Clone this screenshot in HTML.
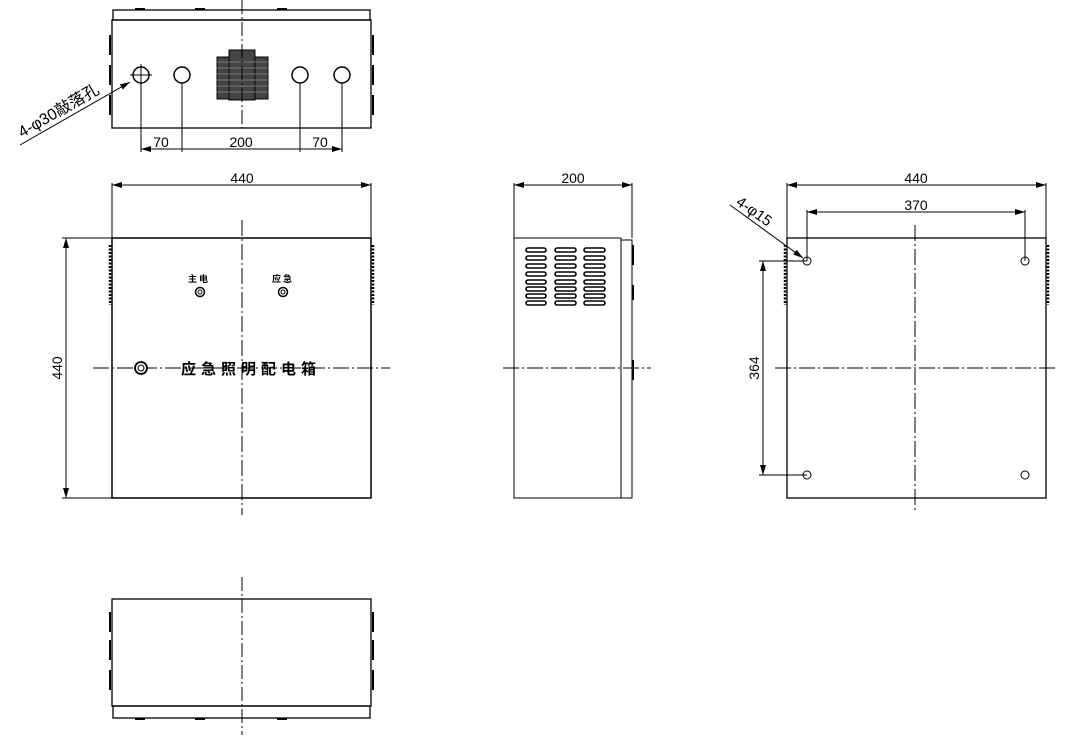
<!DOCTYPE html>
<html><head><meta charset="utf-8"><style>body{margin:0;background:#fff}svg{display:block}text{font-family:"Liberation Sans","Noto Sans CJK SC",sans-serif;fill:#000}</style></head><body>
<svg width="1066" height="740" viewBox="0 0 1066 740" xmlns="http://www.w3.org/2000/svg">
<defs><marker id="a" viewBox="0 0 10 6" refX="10" refY="3" markerWidth="10" markerHeight="6" orient="auto-start-reverse" markerUnits="userSpaceOnUse"><path d="M0,0L10,3L0,6z" fill="#000"/></marker></defs>
<g fill="none" stroke="#000" stroke-width="1">
<rect x="113" y="10" width="257" height="10" stroke-width="1.3"/>
<path d="M135,9h10M195,9h10M277,9h10" stroke-width="2"/>
<rect x="112" y="20" width="259" height="108" stroke-width="1.3"/>
<path d="M110,35v20M110,65v20M110,95v20M373,35v20M373,65v20M373,95v20" stroke-width="2"/>
<circle cx="141" cy="75" r="8" stroke-width="1.5"/><circle cx="182" cy="75" r="8" stroke-width="1.5"/><circle cx="300" cy="75" r="8" stroke-width="1.5"/><circle cx="342" cy="75" r="8" stroke-width="1.5"/>
<path d="M130,75h22M141,64v88M182,83v69M300,83v69M342,83v69"/>
<rect x="217" y="57" width="51" height="42" fill="#444"/>
<rect x="229" y="50" width="26" height="50" fill="#444"/>
<path d="M217,62h51M217,68h51M217,74h51M217,80h51M217,86h51M217,92h51" stroke="#888" stroke-width="0.7"/>
<path d="M242,0V128" stroke-dasharray="14,3,2,3"/>
<path d="M141,149H182M182,149H300M300,149H342" marker-start="url(#a)" marker-end="url(#a)"/>
<path d="M20,145L130,82" marker-end="url(#a)"/>
<path d="M112,183V238M371,183V238M62,238H112M62,498H112"/>
<path d="M112,185H371" marker-start="url(#a)" marker-end="url(#a)"/>
<path d="M66,238V498" marker-start="url(#a)" marker-end="url(#a)"/>
<rect x="112" y="238" width="259" height="260" stroke-width="1.5"/>
<path d="M110,245v60M373,245v60" stroke-width="2.5" stroke-dasharray="2,1.5"/>
<path d="M242,220V515M93,368H390" stroke-dasharray="16,3,2,3"/>
<circle cx="200" cy="292" r="4.5" stroke-width="1.5"/><circle cx="200" cy="292" r="2"/>
<circle cx="283" cy="292" r="4.5" stroke-width="1.5"/><circle cx="283" cy="292" r="2"/>
<circle cx="141" cy="368" r="6" stroke-width="1.8" fill="#fff"/><circle cx="141" cy="368" r="3"/>
<path d="M514,183V238M632,183V238"/>
<path d="M514,185H632" marker-start="url(#a)" marker-end="url(#a)"/>
<rect x="514" y="238" width="107" height="260"/>
<rect x="621" y="240" width="11" height="258"/>
<path d="M633,245v20M633,285v15M633,360v20" stroke-width="2"/>
<path d="M503,368H651" stroke-dasharray="16,3,2,3"/>
<g stroke-width="1.6">
<rect x="526" y="248" width="20" height="4" rx="2"/><rect x="555" y="248" width="21" height="4" rx="2"/><rect x="584" y="248" width="21" height="4" rx="2"/>
<rect x="526" y="256" width="20" height="4" rx="2"/><rect x="555" y="256" width="21" height="4" rx="2"/><rect x="584" y="256" width="21" height="4" rx="2"/>
<rect x="526" y="264" width="20" height="4" rx="2"/><rect x="555" y="264" width="21" height="4" rx="2"/><rect x="584" y="264" width="21" height="4" rx="2"/>
<rect x="526" y="272" width="20" height="4" rx="2"/><rect x="555" y="272" width="21" height="4" rx="2"/><rect x="584" y="272" width="21" height="4" rx="2"/>
<rect x="526" y="280" width="20" height="4" rx="2"/><rect x="555" y="280" width="21" height="4" rx="2"/><rect x="584" y="280" width="21" height="4" rx="2"/>
<rect x="526" y="287" width="20" height="4" rx="2"/><rect x="555" y="287" width="21" height="4" rx="2"/><rect x="584" y="287" width="21" height="4" rx="2"/>
<rect x="526" y="294" width="20" height="4" rx="2"/><rect x="555" y="294" width="21" height="4" rx="2"/><rect x="584" y="294" width="21" height="4" rx="2"/>
<rect x="526" y="301" width="20" height="4" rx="2"/><rect x="555" y="301" width="21" height="4" rx="2"/><rect x="584" y="301" width="21" height="4" rx="2"/>
</g>
<path d="M787,183V238M1046,183V238M807,210V261M1025,210V261M759,261H807M759,475H807"/>
<path d="M787,185H1046" marker-start="url(#a)" marker-end="url(#a)"/>
<path d="M807,212H1025" marker-start="url(#a)" marker-end="url(#a)"/>
<path d="M763,261V475" marker-start="url(#a)" marker-end="url(#a)"/>
<rect x="787" y="238" width="259" height="260" stroke-width="1.3"/>
<path d="M785,245v60M1048,245v60" stroke-width="2.5" stroke-dasharray="2,1.5"/>
<circle cx="807" cy="261" r="4"/><circle cx="1025" cy="261" r="4"/><circle cx="807" cy="475" r="4"/><circle cx="1025" cy="475" r="4"/>
<path d="M730,205L803,258" marker-end="url(#a)"/>
<path d="M915,225V512M775,368H1055" stroke-dasharray="16,3,2,3"/>
<rect x="112" y="599" width="259" height="107" stroke-width="1.3"/>
<rect x="113" y="706" width="257" height="12" stroke-width="1.3"/>
<path d="M135,719h10M195,719h10M277,719h10" stroke-width="2"/>
<path d="M110,612v20M110,640v20M110,670v20M373,612v20M373,640v20M373,670v20" stroke-width="2"/>
<path d="M242,577V735" stroke-dasharray="14,3,2,3"/>
</g>
<g font-size="14">
<text x="161" y="147" text-anchor="middle">70</text>
<text x="241" y="147" text-anchor="middle">200</text>
<text x="320" y="147" text-anchor="middle">70</text>
<text x="242" y="183" text-anchor="middle">440</text>
<text x="573" y="183" text-anchor="middle">200</text>
<text x="916" y="183" text-anchor="middle">440</text>
<text x="916" y="210" text-anchor="middle">370</text>
<text transform="translate(62,368) rotate(-90)" text-anchor="middle">440</text>
<text transform="translate(759,368) rotate(-90)" text-anchor="middle">364</text>
<text transform="translate(735,204) rotate(35)" font-size="15">4-φ15</text>
<text transform="translate(22,138) rotate(-30)" font-size="16">4-φ30敲落孔</text>
</g>
<g font-weight="bold">
<text x="199" y="282" font-size="9" text-anchor="middle" style="font-family:'Noto Sans CJK SC',sans-serif" letter-spacing="2">主电</text>
<text x="283" y="282" font-size="9" text-anchor="middle" style="font-family:'Noto Sans CJK SC',sans-serif" letter-spacing="2">应急</text>
<text x="251" y="374" font-size="15" text-anchor="middle" style="font-family:'Noto Sans CJK SC',sans-serif" letter-spacing="5">应急照明配电箱</text>
</g>
</svg>
</body></html>
